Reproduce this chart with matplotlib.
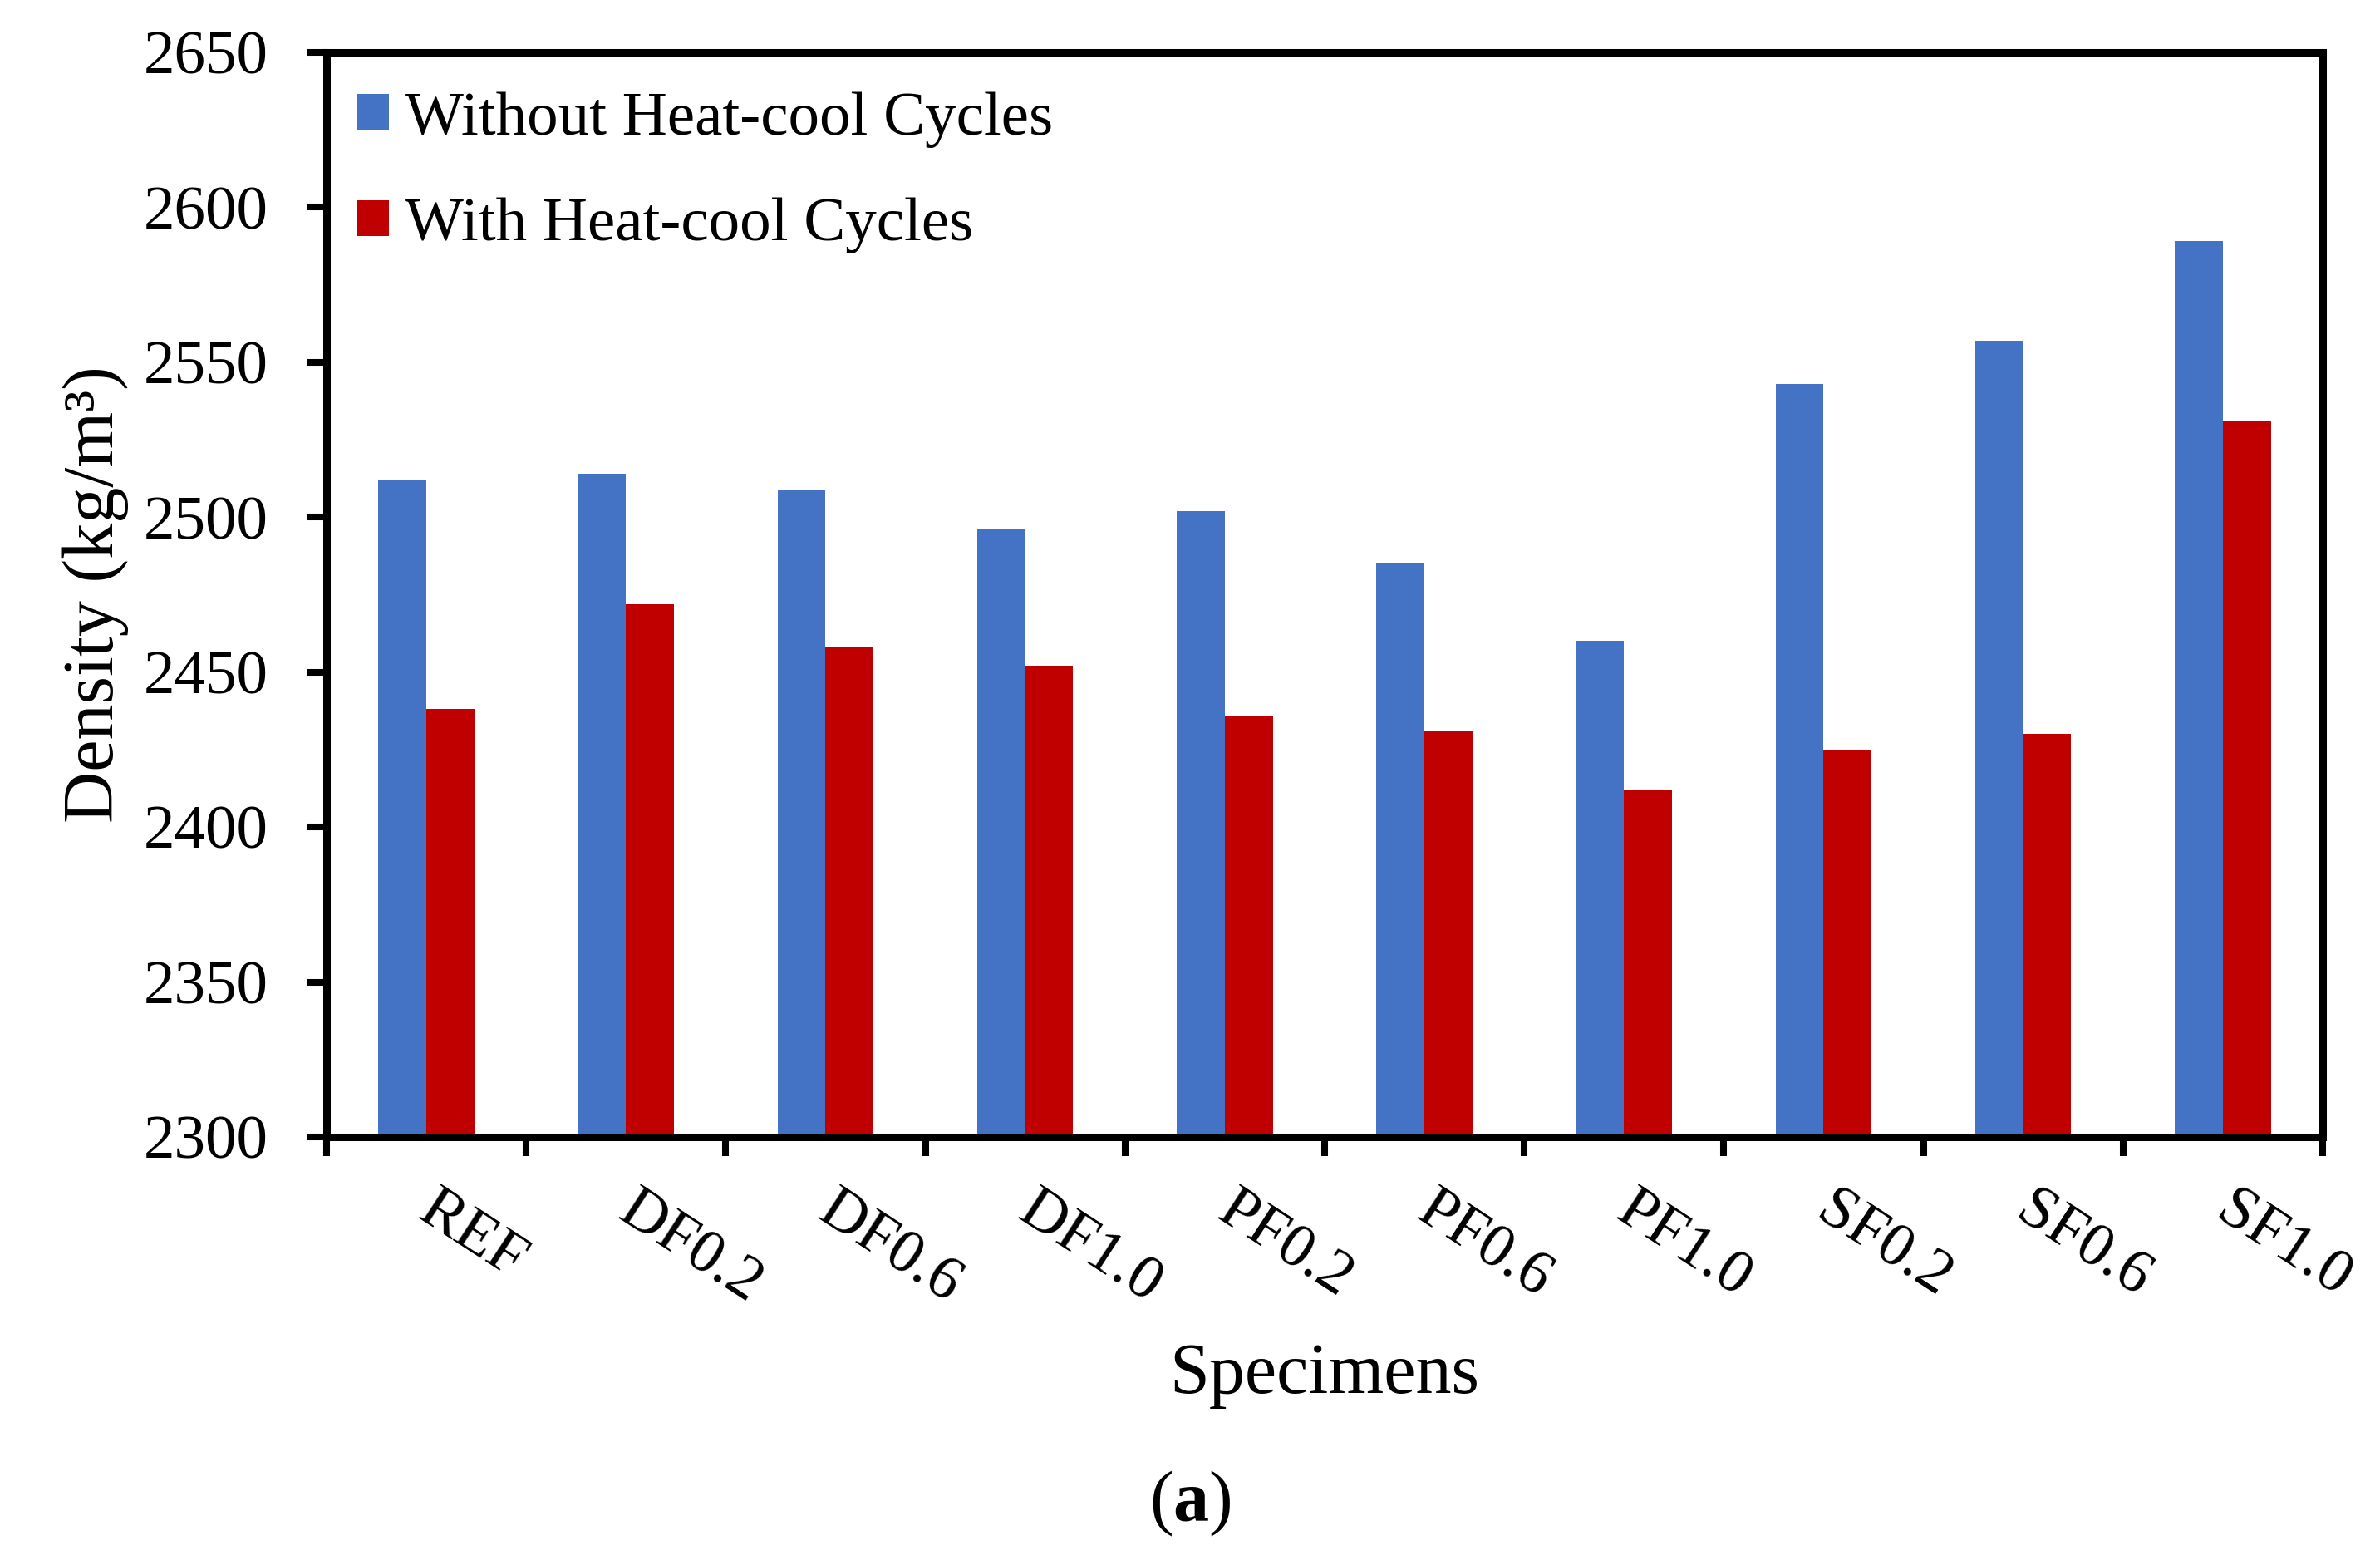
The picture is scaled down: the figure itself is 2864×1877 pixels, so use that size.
"""Density of specimens with and without heat-cool cycles."""

import matplotlib

matplotlib.use("Agg")
import matplotlib.pyplot as plt
import matplotlib.transforms as mtransforms
import numpy as np

plt.rcParams["font.family"] = ["Liberation Serif", "DejaVu Serif"]
plt.rcParams["mathtext.fontset"] = "custom"
plt.rcParams["mathtext.rm"] = "Liberation Serif"
plt.rcParams["mathtext.bf"] = "Liberation Serif:bold"

specimens = ["REF", "DF0.2", "DF0.6", "DF1.0", "PF0.2", "PF0.6", "PF1.0", "SF0.2", "SF0.6", "SF1.0"]
without_cycles = [2512, 2514, 2509, 2496, 2502, 2485, 2460, 2543, 2557, 2589]
with_cycles = [2438, 2472, 2458, 2452, 2436, 2431, 2412, 2425, 2430, 2531]
y_ticks = [2300, 2350, 2400, 2450, 2500, 2550, 2600, 2650]

BLUE = "#4472C4"
RED = "#C00000"
TICK_FS = 54
LABEL_FS = 62
SPINE_W = 6.5

fig = plt.figure(figsize=(28.64, 18.77), dpi=100)
ax = fig.add_axes([0.1372, 0.2712, 0.9759 - 0.1372, 0.9664 - 0.2712])

x = np.arange(len(specimens))
width = 0.24
ax.bar(x - width / 2, without_cycles, width, color=BLUE, label="Without Heat-cool Cycles", zorder=2)
ax.bar(x + width / 2, with_cycles, width, color=RED, label="With Heat-cool Cycles", zorder=2)

ax.set_xlim(-0.5, len(specimens) - 0.5)
ax.set_ylim(y_ticks[0], y_ticks[-1])
ax.set_yticks(y_ticks)

# major ticks on category boundaries, labels on the centres
ax.set_xticks(np.arange(len(specimens) + 1) - 0.5)
ax.set_xticklabels([])
ax.set_xticks(x, minor=True)
ax.set_xticklabels(specimens, minor=True, rotation=-33, ha="left", va="top",
                   rotation_mode="anchor", fontsize=TICK_FS)
ax.tick_params(axis="x", which="minor", length=0, pad=39)
ax.tick_params(axis="x", which="major", direction="out", length=16.5, width=5.8)
ax.tick_params(axis="y", direction="out", length=16.5, width=5.8, labelsize=TICK_FS, pad=34)

shift = mtransforms.ScaledTranslation(16 / 100, 0, fig.dpi_scale_trans)
for lbl in ax.get_xticklabels(minor=True):
    lbl.set_transform(lbl.get_transform() + shift)

for side in ["left", "right", "top", "bottom"]:
    ax.spines[side].set_linewidth(SPINE_W)
    ax.spines[side].set_color("black")

ax.set_ylabel("Density (kg/m³)", fontsize=LABEL_FS)
ax.yaxis.set_label_coords(-0.099, 0.5)
ax.set_xlabel("Specimens", fontsize=LABEL_FS)
ax.xaxis.set_label_coords(0.5, -0.19)

ax.legend(loc="upper left", bbox_to_anchor=(0.015, 0.964), frameon=False,
          fontsize=TICK_FS, handlelength=0.52, handleheight=0.51,
          handletextpad=0.25, labelspacing=0.8, borderpad=0, borderaxespad=0)

fig.text(0.5, 0.025, r"($\mathbf{a}$)", ha="center", va="baseline", fontsize=LABEL_FS)

fig.savefig("out.png", dpi=100)
plt.close(fig)
